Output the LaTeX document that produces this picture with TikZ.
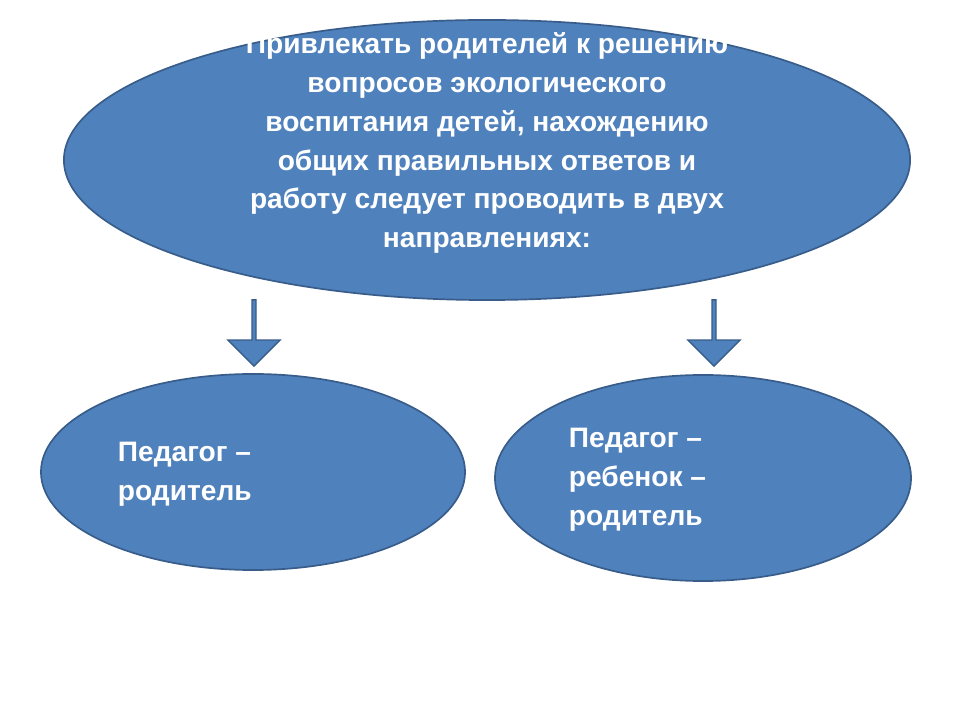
\documentclass[tikz,border=0pt]{standalone}
\usepackage{fontspec}
\setmainfont{Liberation Sans}
\usetikzlibrary{shapes.geometric,shapes.arrows}
\definecolor{fillb}{HTML}{4F81BD}
\definecolor{edgeb}{HTML}{385D8A}
\tikzset{
 oval/.style={ellipse,fill=fillb,draw=edgeb,line width=1.2pt,inner sep=0pt},
 txt/.style={text=white,font=\bfseries\fontsize{20}{27.7}\selectfont},
 down/.style={single arrow,fill=fillb,draw=edgeb,line width=1pt,shape border rotate=270,
   minimum width=37pt,single arrow head extend=6pt,single arrow tip angle=90,minimum height=47pt,inner sep=0pt}
}
\begin{document}
\begin{tikzpicture}[x=0.025cm,y=-0.025cm]
\useasboundingbox[fill=white] (0,0) rectangle (960,720);
\node[oval,minimum width=846\pgflinewidth*0+21.15cm,minimum height=7cm] (top) at (487,160) {};
\node[txt,align=center] (tt) at (487,143) {Привлекать родителей к решению\\вопросов экологического\\воспитания детей, нахождению\\общих правильных ответов и\\работу следует проводить в двух\\направлениях:};
\node[oval,minimum width=10.6cm,minimum height=4.9cm] (l) at (253,472) {};
\node[oval,minimum width=10.4cm,minimum height=5.15cm] (r) at (703,478) {};
\node[txt,align=left,anchor=west] (lt) at (113,474) {Педагог –\\родитель};
\node[txt,align=left,anchor=west] (rt) at (564,480) {Педагог –\\ребенок –\\родитель};
\node[down] (a1) at (254,332) {};
\node[down] (a2) at (714,332) {};
\end{tikzpicture}
\end{document}
